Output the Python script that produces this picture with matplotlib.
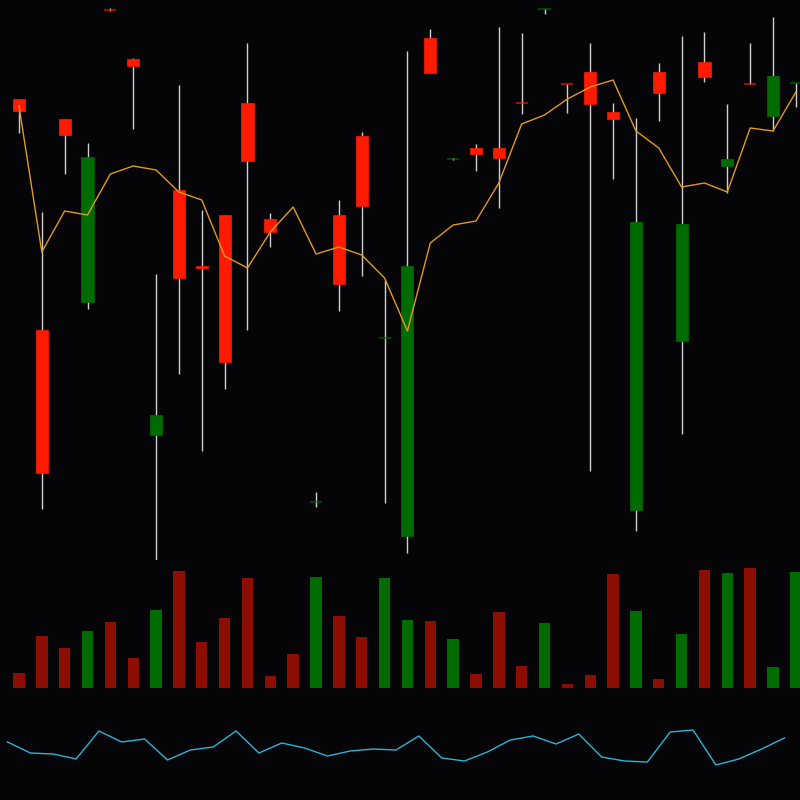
import numpy as np
import matplotlib
matplotlib.use("Agg")
import matplotlib.pyplot as plt

# candle data (price units), index 12 has no candle drawn
opens  = [449, 87, 425, 403, 550, 494, 145, 282, 292, 198, 399, 328, np.nan, 58, 276, 354, 222, 294,
          487, 401, 406, 402, 457, 551, 476, 456, 441, 338, 467, 336, 483, 401, 476, 484, 477]
highs  = [461, 348, 441, 417, 552, 502, 286, 475, 350, 345, 517, 347, np.nan, 68, 360, 428, 280, 509,
          531, 402, 416, 533, 527, 551, 476, 517, 457, 442, 497, 524, 528, 456, 517, 543, 477]
lows   = [427, 51, 386, 251, 549, 431, -3, 186, 109, 171, 230, 313, np.nan, 53, 249, 284, 57, 7,
          487, 400, 389, 352, 446, 546, 447, 89, 381, 29, 439, 126, 478, 367, 476, 429, 453]
closes = [461, 230, 441, 258, 551, 501, 125, 370, 294, 345, 457, 341, np.nan, 58, 345, 424, 222, 24,
          522, 401, 412, 412, 457, 551, 476, 488, 448, 50, 488, 219, 498, 394, 476, 444, 477]
# red = up, green = down (dojis keep the colour of their volume bar)
up = [1, 1, 1, 0, 1, 1, 0, 1, 1, 1, 1, 1, 1, 0, 1, 1, 0, 0,
      1, 0, 1, 1, 1, 0, 1, 1, 1, 0, 1, 0, 1, 0, 1, 0, 0]

line_vals = [454, 308, 349, 345, 386, 394, 390, 368, 360, 304, 292, 328, 353, 306, 313, 305, 282, 229,
             317, 335, 339, 377, 436, 445, 461, 473, 480, 429, 412, 373, 377, 368, 432, 429, 468]

volume = [15, 52, 40, 57, 66, 30, 78, 117, 46, 70, 110, 12, 34, 111, 72, 51, 110, 68,
          67, 49, 14, 76, 22, 65, 4, 13, 114, 77, 9, 54, 118, 115, 120, 21, 116]

osc = [58, 47, 46, 41, 69, 58, 61, 40, 50, 53, 69, 47, 57, 52, 44, 49, 51, 50,
       64, 42, 39, 48, 60, 64, 56, 66, 43, 39, 38, 68, 70, 35, 41, 51, 62]

bg = '#050507'
red = '#ff1a00'
green = '#006b00'
vol_red = '#8b0e00'
vol_green = '#006b00'

n = len(opens)
x = np.arange(n)
xlim = (-0.83, 34.18)

fig = plt.figure(figsize=(8, 8), dpi=100, facecolor=bg)
ax = fig.add_axes([0, 0.30, 1, 0.70], facecolor=bg)
axv = fig.add_axes([0, 0.14, 1, 0.16], facecolor=bg)
axo = fig.add_axes([0, 0.0, 1, 0.125], facecolor=bg)

for a in (ax, axv, axo):
    a.set_xlim(*xlim)
    a.set_xticks([])
    a.set_yticks([])
    for s in a.spines.values():
        s.set_visible(False)

w = 0.53
for i in range(n):
    if np.isnan(opens[i]):
        continue
    col = red if up[i] else green
    ax.vlines(x[i], lows[i], highs[i], color='#cfcfcf', lw=1, zorder=2)
    lo = min(opens[i], closes[i])
    hgt = abs(closes[i] - opens[i])
    if hgt < 1.5:
        ax.hlines(lo, x[i] - w / 2, x[i] + w / 2, color=col, lw=1.5, alpha=0.6, zorder=3)
    else:
        ax.bar(x[i], hgt, bottom=lo, width=w, color=col, edgecolor=col, lw=0.5, zorder=3)

ax.plot(x, line_vals, color='#e09a1c', lw=1, zorder=4)
ax.set_ylim(0, 560)

vcols = [vol_red if u else vol_green for u in up]
axv.bar(x, volume, width=0.5, color=vcols)
axv.set_ylim(-0.5, 127.5)

axo.plot(x - 0.5, osc, color='#2ab4d6', lw=1)
axo.set_ylim(0, 100)

fig.savefig('out.png', dpi=100, facecolor=bg)
plt.close(fig)
